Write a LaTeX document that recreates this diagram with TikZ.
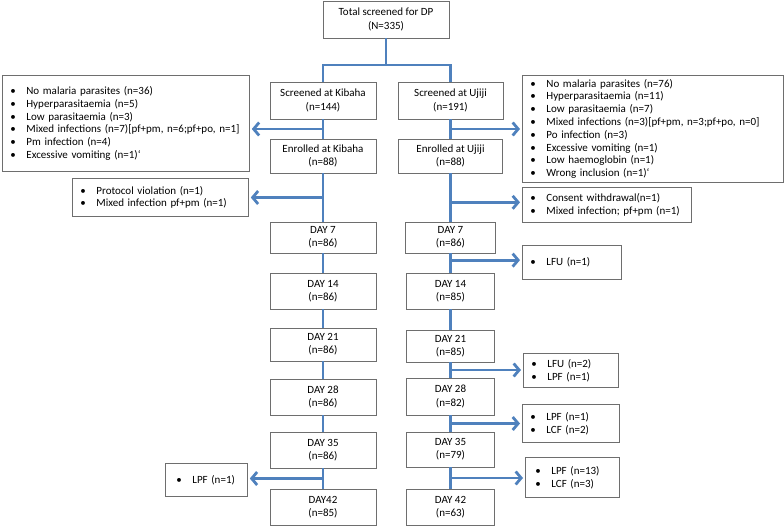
\documentclass[tikz,border=0pt]{standalone}
\usepackage{fontspec}
\setmainfont{Carlito}
\usepackage{tikz}
\usetikzlibrary{positioning,calc,arrows.meta}
\definecolor{flowblue}{RGB}{79,129,189}
\definecolor{boxgrey}{RGB}{110,110,110}
\tikzset{main box/.style={draw=boxgrey,fill=white,line width=0.8pt,align=center,inner sep=0pt,font=\fontsize{11}{13.3}\selectfont},}
\tikzstyle{excl} = [draw=boxgrey,fill=white,line width=0.8pt,anchor=north west,align=left,inner xsep=8pt,inner ysep=0pt,font=\fontsize{11}{12.8}\selectfont]
\tikzstyle{link} = [flowblue,line width=2.8pt]
\tikzstyle{arr} = [flowblue,line width=2.8pt,-{Straight Barb[length=5.5pt,width=13pt]},shorten >=2pt]
\newcommand{\itm}{\makebox[16pt][l]{\textbullet}}

\begin{document}
\begin{tikzpicture}[x=1pt,y=-1pt]
\useasboundingbox (0,0) rectangle (784,526);
% screening
\node[main box,minimum width=126,minimum height=37] (total) at (386,19.5) {Total screened for DP\\(N=335)};
% Kibaha arm
\node[main box,minimum width=106,minimum height=37] (sk) at (323,100.5) {Screened at Kibaha\\(n=144)};
\node[main box,minimum width=106,minimum height=34] (ek) at (323,156) {Enrolled at Kibaha\\(n=88)};
\node[main box,minimum width=106,minimum height=31] (k7) at (323,237.5) {DAY 7\\(n=86)};
\node[main box,minimum width=106,minimum height=36] (k14) at (323,291) {DAY 14\\(n=86)};
\node[main box,minimum width=106,minimum height=33] (k21) at (323,344.5) {DAY 21\\(n=86)};
\node[main box,minimum width=106,minimum height=36] (k28) at (323,397) {DAY 28\\(n=86)};
\node[main box,minimum width=106,minimum height=36] (k35) at (323,450) {DAY 35\\(n=86)};
\node[main box,minimum width=106,minimum height=36] (k42) at (323,507) {DAY42\\(n=85)};
% Ujiji arm
\node[main box,minimum width=105,minimum height=37] (su) at (450.5,100.5) {Screened at Ujiji\\(n=191)};
\node[main box,minimum width=104,minimum height=34] (eu) at (450.5,156) {Enrolled at Ujiji\\(n=88)};
\node[main box,minimum width=90,minimum height=31] (u7) at (450.5,237.5) {DAY 7\\(n=86)};
\node[main box,minimum width=88,minimum height=36] (u14) at (450.5,291) {DAY 14\\(n=85)};
\node[main box,minimum width=88,minimum height=32] (u21) at (450.5,346) {DAY 21\\(n=85)};
\node[main box,minimum width=88,minimum height=37] (u28) at (450.5,396.5) {DAY 28\\(n=82)};
\node[main box,minimum width=88,minimum height=35] (u35) at (450.5,449.5) {DAY 35\\(n=79)};
\node[main box,minimum width=88,minimum height=36] (u42) at (450.5,507) {DAY 42\\(n=63)};
% exclusions, Kibaha
\node[excl,text width=231,minimum height=96] (kx1) at (2,75) {\itm No malaria parasites (n=36)\\\itm Hyperparasitaemia (n=5)\\\itm Low parasitaemia (n=3)\\\itm Mixed infections (n=7)[pf+pm, n=6;pf+po, n=1]\\\itm Pm infection (n=4)\\\itm Excessive vomiting (n=1)`};
\node[excl,text width=160,minimum height=38] (kx2) at (72,178) {\itm Protocol violation (n=1)\\\itm Mixed infection pf+pm (n=1)};
\node[excl,inner xsep=11pt,text width=60,minimum height=33] (kx3) at (165,463) {\itm LPF (n=1)};
% exclusions, Ujiji
\node[excl,text width=245,minimum height=107] (ux1) at (522,75) {\itm No malaria parasites (n=76)\\\itm Hyperparasitaemia (n=11)\\\itm Low parasitaemia (n=7)\\\itm Mixed infections (n=3)[pf+pm, n=3;pf+po, n=0]\\\itm Po infection (n=3)\\\itm Excessive vomiting (n=1)\\\itm Low haemoglobin (n=1)\\\itm Wrong inclusion (n=1)`};
\node[excl,text width=153,minimum height=35] (ux2) at (522,187) {\itm Consent withdrawal(n=1)\\\itm Mixed infection; pf+pm (n=1)};
\node[excl,text width=83,minimum height=34] (ux3) at (522,245) {\itm LFU (n=1)};
\node[excl,text width=79,minimum height=34] (ux4) at (523,353) {\itm LFU (n=2)\\\itm LPF (n=1)};
\node[excl,text width=81,minimum height=38] (ux5) at (522,404) {\itm LPF (n=1)\\\itm LCF (n=2)};
\node[excl,inner xsep=10pt,text width=74,minimum height=40] (ux6) at (525,457) {\itm LPF (n=13)\\\itm LCF (n=3)};
% connectors
\coordinate (split) at (386,65);
\draw[link] (total) -- (split);
\draw[link] (sk) |- (split) -| (su);
\draw[link] (sk) edge (ek) (ek) edge (k7) (k7) edge (k14) (k14) edge (k21)
    (k21) edge (k28) (k28) edge (k35) (k35) edge (k42);
\draw[link] (su) edge (eu) (eu) edge (u7) (u7) edge (u14) (u14) edge (u21)
    (u21) edge (u28) (u28) edge (u35) (u35) edge (u42);
\coordinate (kb1) at ($(sk.south)!.5!(ek.north)$);
\coordinate (kb2) at ($(ek.south)!.5!(k7.north)$);
\coordinate (kb3) at ($(k35.south)!.5!(k42.north)$);
\draw[arr] (kb1) -- (kb1 -| kx1.east);
\draw[arr] (kb2) -- (kb2 -| kx2.east);
\draw[arr] (kb3) -- (kb3 -| kx3.east);
\coordinate (ub1) at ($(su.south)!.5!(eu.north)$);
\coordinate (ub2) at ($(eu.south)!.6!(u7.north)$);
\coordinate (ub3) at ($(u7.south)!.35!(u14.north)$);
\coordinate (ub4) at ($(u21.south)!.5!(u28.north)$);
\coordinate (ub5) at ($(u28.south)!.5!(u35.north)$);
\coordinate (ub6) at ($(u35.south)!.5!(u42.north)$);
\draw[arr] (ub1) -- (ub1 -| ux1.west);
\draw[arr] (ub2) -- (ub2 -| ux2.west);
\draw[arr] (ub3) -- (ub3 -| ux3.west);
\draw[arr] (ub4) -- (ub4 -| ux4.west);
\draw[arr] (ub5) -- (ub5 -| ux5.west);
\draw[arr] (ub6) -- (ub6 -| ux6.west);
\end{tikzpicture}
\end{document}
